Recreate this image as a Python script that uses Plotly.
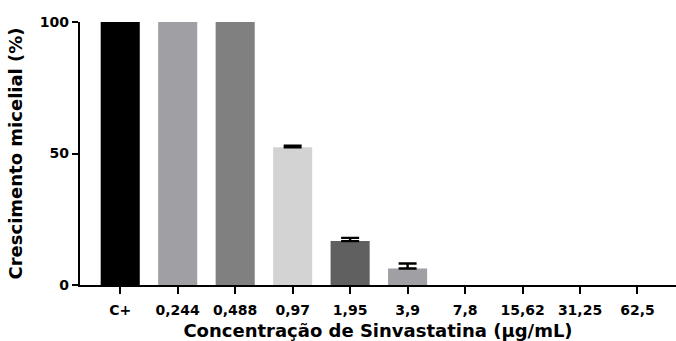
import plotly.graph_objects as go

# Mycelial growth (%) per simvastatin concentration
categories = ["C+", "0,244", "0,488", "0,97", "1,95", "3,9", "7,8", "15,62", "31,25", "62,5"]
growth = [100, 100, 100, 52.4, 16.7, 6.3, 0, 0, 0, 0]
bar_colors = ["#000000", "#a0a0a4", "#808080", "#d3d3d3", "#606060",
              "#a0a0a4", "#808080", "#808080", "#808080", "#808080"]

# Standard deviation shown for the groups that had variation
err_categories = ["0,97", "1,95", "3,9"]
err_means = [52.4, 16.7, 6.3]
err_sd = [0.6, 1.2, 1.9]

positions = list(range(len(categories)))
err_positions = [categories.index(c) for c in err_categories]

fig = go.Figure()
fig.add_trace(
    go.Bar(
        x=positions,
        y=growth,
        width=0.68,
        marker=dict(color=bar_colors, line=dict(width=0)),
        hoverinfo="x+y",
    )
)
fig.add_trace(
    go.Scatter(
        x=err_positions,
        y=err_means,
        mode="markers",
        marker=dict(size=1, opacity=0),
        error_y=dict(type="data", array=err_sd, arrayminus=[0] * len(err_sd),
                     color="#000000", thickness=2.4, width=9, visible=True),
        hoverinfo="skip",
    )
)

font_family = "DejaVu Sans, Arial, sans-serif"

fig.update_layout(
    width=676,
    height=341,
    margin=dict(l=80, r=0, t=22, b=56),
    paper_bgcolor="white",
    plot_bgcolor="white",
    showlegend=False,
    font=dict(family=font_family, color="#000000"),
)

fig.update_xaxes(
    tickmode="array",
    tickvals=positions,
    ticktext=categories,
    range=[-0.7, 9.67],
    showline=True,
    linecolor="#000000",
    linewidth=2.2,
    ticks="outside",
    ticklen=7,
    tickwidth=2,
    tickcolor="#000000",
    ticklabelstandoff=4,
    showgrid=False,
    zeroline=False,
    tickfont=dict(size=14, family=font_family, weight="bold"),
    title=dict(text="Concentração de Sinvastatina (µg/mL)",
               font=dict(size=18, family=font_family, weight="bold"),
               standoff=8),
)

fig.update_yaxes(
    range=[0, 100],
    tickvals=[0, 50, 100],
    showline=True,
    linecolor="#000000",
    linewidth=2.2,
    ticks="outside",
    ticklen=6,
    tickwidth=2,
    tickcolor="#000000",
    showgrid=False,
    zeroline=False,
    tickfont=dict(size=14, family=font_family, weight="bold"),
    title=dict(text="Crescimento micelial (%)",
               font=dict(size=18, family=font_family, weight="bold"),
               standoff=13),
)

fig.write_html("out.html")
